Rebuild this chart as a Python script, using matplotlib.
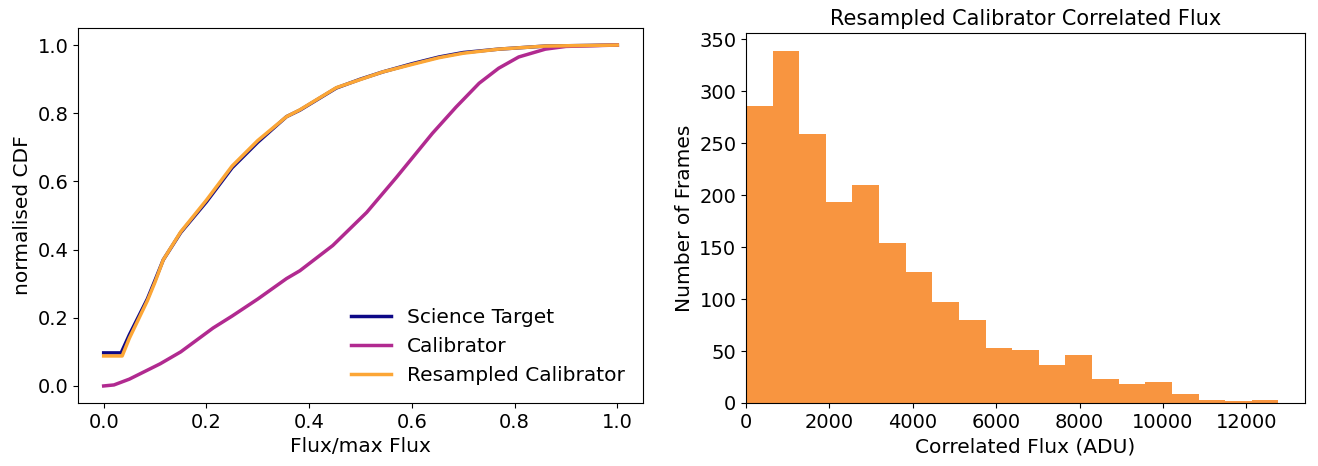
import numpy as np
import matplotlib
matplotlib.use("Agg")
import matplotlib.pyplot as plt

# ---- CDF data ----
sci_x = [0, 0.034, 0.05, 0.085, 0.1, 0.116, 0.15, 0.2, 0.25, 0.3, 0.356, 0.382, 0.453,
         0.5, 0.543, 0.6, 0.653, 0.7, 0.769, 0.86, 1.0]
sci_y = [0.097, 0.097, 0.15, 0.255, 0.31, 0.37, 0.45, 0.54, 0.64, 0.715, 0.79, 0.809, 0.874,
         0.9, 0.921, 0.945, 0.965, 0.978, 0.988, 0.997, 1.0]

cal_x = [0, 0.02, 0.05, 0.11, 0.15, 0.213, 0.25, 0.3, 0.356, 0.382, 0.446, 0.512, 0.57,
         0.64, 0.686, 0.731, 0.769, 0.808, 0.86, 0.9, 1.0]
cal_y = [0.0, 0.003, 0.02, 0.065, 0.1, 0.17, 0.205, 0.255, 0.315, 0.338, 0.412, 0.509, 0.612,
         0.741, 0.818, 0.888, 0.932, 0.965, 0.988, 0.996, 1.0]

res_x = [0, 0.036, 0.05, 0.085, 0.1, 0.116, 0.15, 0.2, 0.25, 0.3, 0.356, 0.382, 0.453,
         0.5, 0.543, 0.6, 0.653, 0.7, 0.769, 0.86, 1.0]
res_y = [0.088, 0.088, 0.14, 0.25, 0.305, 0.37, 0.452, 0.545, 0.645, 0.72, 0.79, 0.81, 0.875,
         0.899, 0.921, 0.943, 0.963, 0.976, 0.988, 0.997, 1.0]

# ---- Histogram data ----
hist_max = 12766
hist_counts = [286, 339, 259, 193, 210, 154, 126, 97, 80, 53, 51, 37, 46, 23, 18, 20, 9, 3, 2, 3]

cmap = plt.get_cmap("plasma")

fig = plt.figure(figsize=(13.18, 4.66), dpi=100)
ax1 = fig.add_axes([78 / 1318, 63 / 466, 565 / 1318, 375 / 466])
ax2 = fig.add_axes([746 / 1318, 63 / 466, 559 / 1318, 370 / 466])

ax1.plot(sci_x, sci_y, color=cmap(0.0), lw=2.5, label="Science Target")
ax1.plot(cal_x, cal_y, color=cmap(0.4), lw=2.5, label="Calibrator")
ax1.plot(res_x, res_y, color=cmap(0.8), lw=2.5, label="Resampled Calibrator")
ax1.set_xlabel("Flux/max Flux", fontsize=14.5)
ax1.set_ylabel("normalised CDF", fontsize=14.5)
ax1.tick_params(labelsize=14)
ax1.legend(loc="lower right", fontsize=14.5, frameon=False)

edges = np.linspace(0, hist_max, len(hist_counts) + 1)
centers = 0.5 * (edges[:-1] + edges[1:])
ax2.hist(centers, bins=edges, weights=hist_counts, color=cmap(0.75))
ax2.set_xlim(left=0)
ax2.set_xlabel("Correlated Flux (ADU)", fontsize=14.5)
ax2.set_ylabel("Number of Frames", fontsize=14.5)
ax2.set_title("Resampled Calibrator Correlated Flux", fontsize=15)
ax2.tick_params(labelsize=14)

fig.savefig("out.png", dpi=100)
